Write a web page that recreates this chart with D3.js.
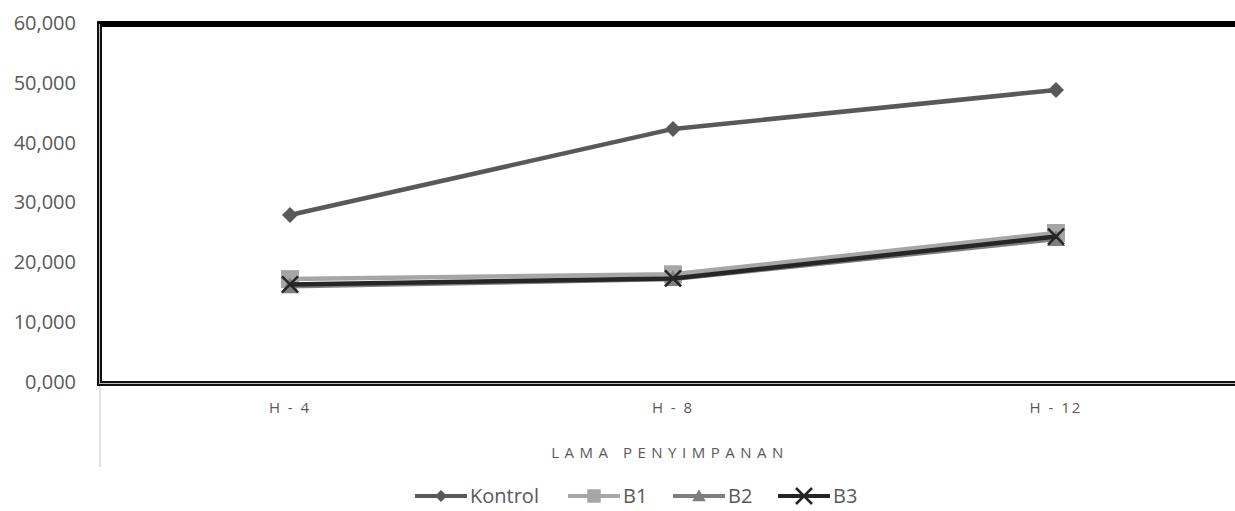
<!DOCTYPE html>
<html><head><meta charset="utf-8">
<script src="https://cdn.jsdelivr.net/npm/d3@7"></script>
<style>body{margin:0;background:#fff}svg{display:block}</style>
</head><body>
<svg id="c" width="1235" height="511"></svg>
<script>
const categories = ["H - 4", "H - 8", "H - 12"];
const kontrol = [27900, 42300, 48800];
const b1 = [17200, 18000, 24900];
const b2 = [16000, 17200, 23900];
const b3 = [16300, 17300, 24300];
const yTicks = [0, 10000, 20000, 30000, 40000, 50000, 60000];
const seriesNames = ["Kontrol", "B1", "B2", "B3"];
const axisTitle = "LAMA PENYIMPANAN";

const svg = d3.select("#c");
const FONT = "'Open Sans', sans-serif";
const x = d3.scaleBand().domain(categories).range([98.5, 1247.5]);
const y = d3.scaleLinear().domain([0, 60000]).range([382, 23]);

const series = [
  {name: seriesNames[0], vals: kontrol, color: "#595959", marker: "diamond"},
  {name: seriesNames[1], vals: b1, color: "#a6a6a6", marker: "square"},
  {name: seriesNames[2], vals: b2, color: "#7f7f7f", marker: "triangle"},
  {name: seriesNames[3], vals: b3, color: "#262626", marker: "x"}
];

// y axis labels
const yAxis = d3.axisLeft(y).tickValues(yTicks).tickFormat(v => d3.format(",")(v/1000) + ",000").tickSize(0).tickPadding(0);
const gy = svg.append("g").attr("transform", "translate(76,0)").call(yAxis);
gy.select(".domain").remove();
gy.selectAll("text").attr("font-family", FONT).attr("font-size", 20).attr("fill", "#595959");

// x axis labels
const xAxis = d3.axisBottom(x).tickSize(0).tickPadding(0);
const gx = svg.append("g").attr("transform", "translate(0,402)").call(xAxis);
gx.select(".domain").remove();
gx.selectAll("text").attr("font-family", FONT).attr("font-size", 15).attr("fill", "#595959")
  .attr("letter-spacing", "2px").attr("dy", "0.7em");

svg.append("text").attr("x", 670).attr("y", 458).attr("text-anchor", "middle")
  .attr("font-family", FONT).attr("font-size", 15).attr("letter-spacing", "5.5px")
  .attr("fill", "#595959").text(axisTitle);

// borders
svg.append("line").attr("x1", 100).attr("x2", 100).attr("y1", 386).attr("y2", 467).attr("stroke", "#d9d9d9").attr("stroke-width", 1.5);
svg.append("rect").attr("x", 97).attr("y", 21).attr("width", 1140).attr("height", 6).attr("fill", "#000");
// left double line
svg.append("rect").attr("x", 97).attr("y", 21).attr("width", 2).attr("height", 365).attr("fill", "#111");
svg.append("rect").attr("x", 99).attr("y", 24).attr("width", 1).attr("height", 360).attr("fill", "#bbb");
svg.append("rect").attr("x", 100).attr("y", 24).attr("width", 2).attr("height", 358).attr("fill", "#111");
// bottom double line
svg.append("rect").attr("x", 100).attr("y", 381).attr("width", 1140).attr("height", 2).attr("fill", "#111");
svg.append("rect").attr("x", 99).attr("y", 383).attr("width", 1140).attr("height", 1).attr("fill", "#bbb");
svg.append("rect").attr("x", 97).attr("y", 384).attr("width", 1140).attr("height", 2).attr("fill", "#111");

function drawMarker(g, type, cx, cy, color) {
  if (type === "diamond") {
    g.append("path").attr("d", `M${cx},${cy-8}L${cx+8},${cy}L${cx},${cy+8}L${cx-8},${cy}Z`).attr("fill", color);
  } else if (type === "square") {
    g.append("rect").attr("x", cx-9).attr("y", cy-9).attr("width", 18).attr("height", 18).attr("fill", color);
  } else if (type === "triangle") {
    g.append("path").attr("d", `M${cx},${cy-9}L${cx+9},${cy+7}L${cx-9},${cy+7}Z`).attr("fill", color);
  } else {
    g.append("path").attr("d", `M${cx-8},${cy-8}L${cx+8},${cy+8}M${cx+8},${cy-8}L${cx-8},${cy+8}`).attr("stroke", color).attr("stroke-width", 2.5);
  }
}

const line = d3.line().x((d, i) => x(categories[i]) + x.bandwidth()/2).y(d => y(d));
const plot = svg.append("g");
series.forEach(s => {
  plot.append("path").datum(s.vals).attr("d", line).attr("fill", "none")
    .attr("stroke", s.color).attr("stroke-width", 4.5).attr("stroke-linejoin", "round");
  s.vals.forEach((v, i) => drawMarker(plot, s.marker, x(categories[i]) + x.bandwidth()/2, y(v), s.color));
});

// legend
const legX = [415, 568, 673, 778];
const lg = svg.append("g");
series.forEach((s, i) => {
  const lx = legX[i], ly = 496;
  lg.append("line").attr("x1", lx).attr("x2", lx + 52).attr("y1", ly).attr("y2", ly).attr("stroke", s.color).attr("stroke-width", 4);
  const m = lg.append("g");
  drawMarker(m, s.marker, lx + 26, ly, s.color);
  if (s.marker !== "x") m.attr("transform", `translate(${lx+26},${ly}) scale(0.75) translate(${-(lx+26)},${-ly})`);
  lg.append("text").attr("x", lx + 55).attr("y", ly).attr("dy", "0.35em")
    .attr("font-family", FONT).attr("font-size", 20).attr("fill", "#595959").text(s.name);
});
</script>
</body></html>
